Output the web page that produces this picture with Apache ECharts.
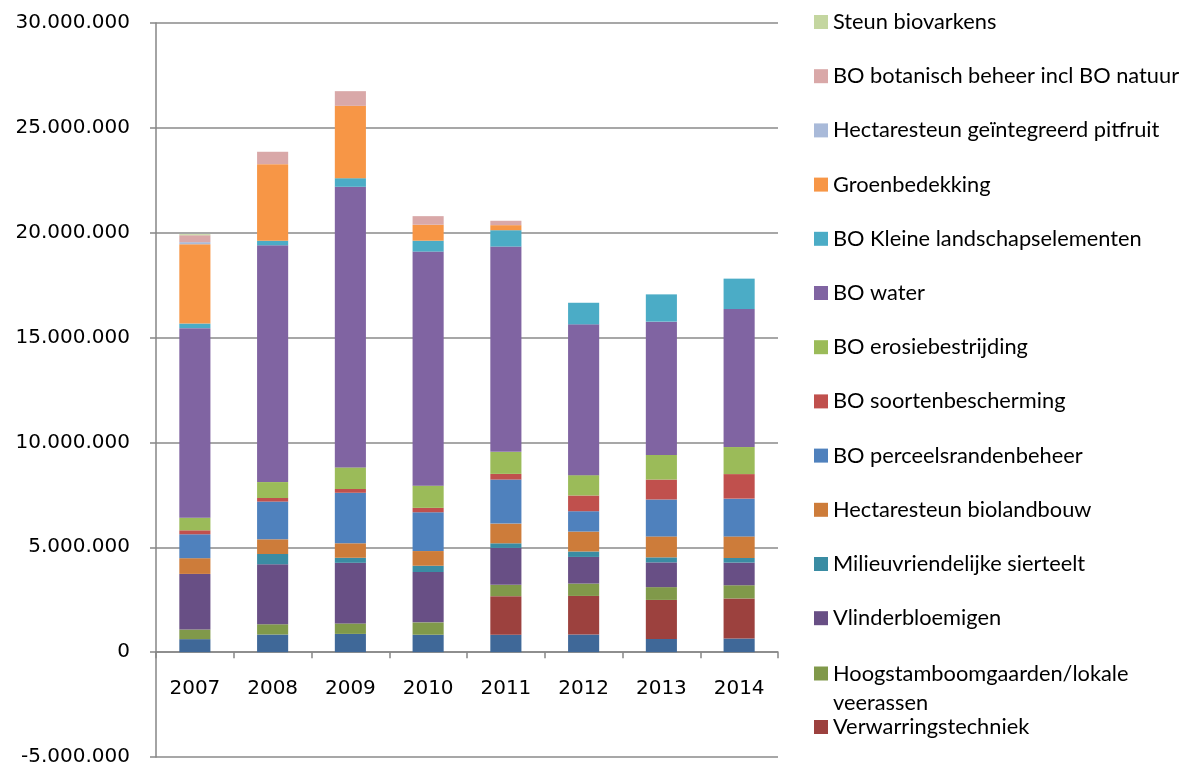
<!DOCTYPE html>
<html>
<head>
<meta charset="utf-8">
<script src="https://cdn.jsdelivr.net/npm/echarts@6/dist/echarts.min.js"></script>
<style>html,body{margin:0;padding:0;background:#fff}#c{width:1184px;height:767px}</style>
</head>
<body>
<div id="c"></div>
<script>
const years = ['2007','2008','2009','2010','2011','2012','2013','2014'];
const yTicks = { min: -5000000, max: 30000000, interval: 5000000 };

// stacked bottom-up
const overige              = [620000, 840000, 870000, 830000, 830000, 840000, 630000, 650000];
const verwarringstechniek  = [0, 0, 0, 0, 1840000, 1840000, 1860000, 1910000];
const hoogstamboomgaarden  = [460000, 490000, 500000, 590000, 540000, 590000, 610000, 630000];
const vlinderbloemigen     = [2650000, 2860000, 2890000, 2400000, 1760000, 1270000, 1180000, 1080000];
const sierteelt            = [0, 490000, 240000, 300000, 220000, 260000, 240000, 220000];
const biolandbouw          = [750000, 700000, 690000, 700000, 940000, 950000, 1000000, 1030000];
const perceelsranden       = [1140000, 1800000, 2410000, 1850000, 2100000, 970000, 1760000, 1800000];
const soortenbescherming   = [190000, 170000, 180000, 210000, 270000, 750000, 950000, 1170000];
const erosiebestrijding    = [600000, 760000, 1030000, 1060000, 1050000, 970000, 1170000, 1290000];
const boWater              = [9040000, 11290000, 13380000, 11160000, 9790000, 7190000, 6360000, 6580000];
const kleineLandschap      = [220000, 220000, 410000, 520000, 780000, 1030000, 1300000, 1450000];
const groenbedekking       = [3780000, 3650000, 3450000, 760000, 240000, 0, 0, 0];
const pitfruit             = [100000, 0, 0, 0, 0, 0, 0, 0];
const botanisch            = [330000, 590000, 700000, 410000, 210000, 0, 0, 0];
const biovarkens           = [50000, 0, 0, 0, 0, 0, 0, 0];

const seriesDefs = [
  ['Overige', overige, '#3F6898'],
  ['Verwarringstechniek', verwarringstechniek, '#9C413E'],
  ['Hoogstamboomgaarden/lokale veerassen', hoogstamboomgaarden, '#80994A'],
  ['Vlinderbloemigen', vlinderbloemigen, '#684F85'],
  ['Milieuvriendelijke sierteelt', sierteelt, '#3A8CA3'],
  ['Hectaresteun biolandbouw', biolandbouw, '#CD7C3A'],
  ['BO perceelsrandenbeheer', perceelsranden, '#4F81BD'],
  ['BO soortenbescherming', soortenbescherming, '#C0504D'],
  ['BO erosiebestrijding', erosiebestrijding, '#9BBB59'],
  ['BO water', boWater, '#8064A2'],
  ['BO Kleine landschapselementen', kleineLandschap, '#4BACC6'],
  ['Groenbedekking', groenbedekking, '#F79646'],
  ['Hectaresteun geïntegreerd pitfruit', pitfruit, '#A9BAD9'],
  ['BO botanisch beheer incl BO natuur', botanisch, '#D9A8A8'],
  ['Steun biovarkens', biovarkens, '#C4D6A0']
];

const legendTop = ['Steun biovarkens','BO botanisch beheer incl BO natuur','Hectaresteun geïntegreerd pitfruit','Groenbedekking','BO Kleine landschapselementen','BO water','BO erosiebestrijding','BO soortenbescherming','BO perceelsrandenbeheer','Hectaresteun biolandbouw','Milieuvriendelijke sierteelt','Vlinderbloemigen'];

function fmt(v){
  const s = String(Math.abs(v)).replace(/\B(?=(\d{3})+(?!\d))/g, '.');
  return (v < 0 ? '-' : '') + s;
}

const legendText = { fontFamily: 'Lato', fontSize: 21.8, color: '#000', lineHeight: 26 };
const axisGray = '#868686';

const option = {
  animation: false,
  backgroundColor: '#fff',
  grid: { left: 156, right: 406, top: 23, bottom: 10, containLabel: false, outerBoundsMode: 'none' },
  legend: [
    { orient: 'vertical', left: 814, top: 9, padding: 0, itemWidth: 14, itemHeight: 14, itemGap: 28.2,
      icon: 'rect', data: legendTop, textStyle: legendText, selectedMode: false },
    { orient: 'vertical', left: 814, top: 659, padding: 0, itemWidth: 14, itemHeight: 58, itemGap: 0,
      icon: 'path://M0,0M0,7.5L14,7.5L14,21.5L0,21.5ZM0,58',
      data: ['Hoogstamboomgaarden/lokale veerassen'],
      formatter: n => n.replace('/lokale ', '/lokale\n'),
      textStyle: { fontFamily: 'Lato', fontSize: 21.8, color: '#000', lineHeight: 29 }, selectedMode: false },
    { orient: 'vertical', left: 814, top: 714, padding: 0, itemWidth: 14, itemHeight: 14,
      icon: 'rect', data: ['Verwarringstechniek'], textStyle: legendText, selectedMode: false }
  ],
  xAxis: [
    {
      type: 'category', data: years, boundaryGap: true,
      axisLine: { onZero: true, lineStyle: { color: axisGray, width: 1.5 } },
      axisTick: { show: true, interval: 0, length: 6, lineStyle: { color: axisGray, width: 1.5 } },
      axisLabel: { show: false }
    },
    {
      type: 'category', data: years, boundaryGap: true, position: 'bottom', offset: -105,
      axisLine: { show: false, onZero: false },
      axisTick: { show: false },
      splitLine: { show: false },
      axisLabel: { show: true, color: '#000', fontFamily: 'DejaVu Sans', fontSize: 20, margin: 27 }
    }
  ],
  yAxis: {
    type: 'value', min: yTicks.min, max: yTicks.max, interval: yTicks.interval,
    axisLine: { show: true, lineStyle: { color: axisGray, width: 1.5 } },
    axisTick: { show: true, length: 6, lineStyle: { color: axisGray, width: 1.5 } },
    splitLine: { show: true, lineStyle: { color: '#8a8a8a', width: 1.5 } },
    axisLabel: { color: '#000', fontFamily: 'DejaVu Sans', fontSize: 20, margin: 26, formatter: fmt }
  },
  series: seriesDefs.map(([name, data, color]) => ({
    name, type: 'bar', stack: 'total', data, barWidth: '40%', xAxisIndex: 0,
    itemStyle: { color }
  }))
};

echarts.init(document.getElementById('c')).setOption(option);
</script>
</body>
</html>
